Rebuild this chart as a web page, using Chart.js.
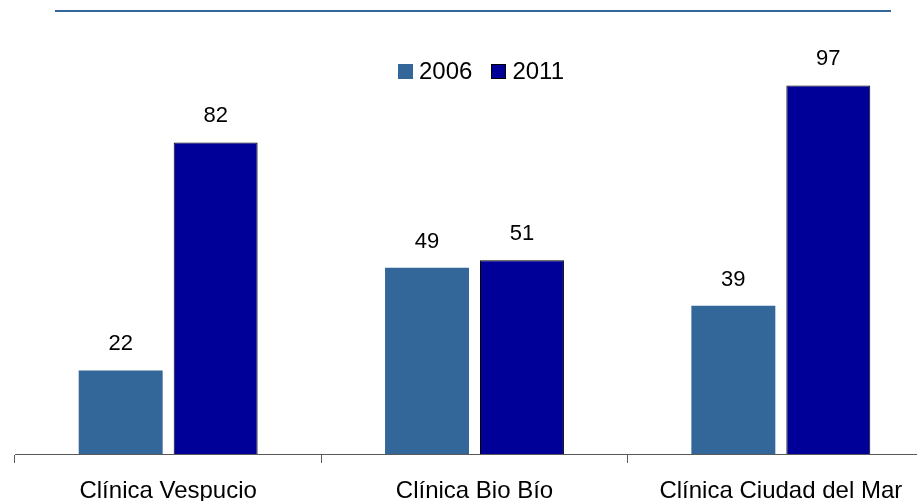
<!DOCTYPE html>
<html>
<head>
<meta charset="utf-8">
<script src="https://cdn.jsdelivr.net/npm/chart.js@4.4.0/dist/chart.umd.min.js"></script>
<style>
  body { margin: 0; width: 917px; height: 501px; overflow: hidden; background: #fff; font-family: "Liberation Sans", Arial, sans-serif; }
  #wrap { position: absolute; left: 0; top: 0; width: 940px; height: 501px; }
  #topline { position: absolute; left: 55px; top: 10px; width: 836px; height: 2px; background: #336699; }
  #legend { position: absolute; left: 398px; top: 57px; font-size: 24px; line-height: 28px; color: #000; display: flex; align-items: center; }
  #legend span.box { display: inline-block; width: 15px; height: 15px; margin-right: 6px; box-sizing: border-box; }
</style>
</head>
<body>
<div id="wrap"><canvas id="chart" width="940" height="501"></canvas></div>
<div id="topline"></div>
<div id="legend">
  <span class="box" style="background:#336699"></span><span style="margin-right:19px">2006</span>
  <span class="box" style="background:#000099;border:1px solid #000"></span><span>2011</span>
</div>
<script>
// categories and series
let clinicas = ["Clínica Vespucio", "Clínica Bio Bío", "Clínica Ciudad del Mar"]
let valores_2006 = [22, 49, 39]
let valores_2011 = [82, 51, 97]

// draw value above each bar
const valueLabels = {
  id: 'valueLabels',
  afterDatasetsDraw(chart) {
    const ctx = chart.ctx
    ctx.save()
    ctx.font = '22px "Liberation Sans", Arial, sans-serif'
    ctx.fillStyle = '#000'
    ctx.textAlign = 'center'
    ctx.textBaseline = 'alphabetic'
    chart.data.datasets.forEach((ds, i) => {
      chart.getDatasetMeta(i).data.forEach((bar, j) => {
        ctx.fillText(ds.data[j], bar.x, bar.y - 20)
      })
    })
    ctx.restore()
  }
}

new Chart(document.getElementById("chart"), {
  type: 'bar',
  data: {
    labels: clinicas,
    datasets: [{
        label: "2006",
        data: valores_2006,
        backgroundColor: "#336699",
        borderWidth: 0
      }, {
        label: "2011",
        data: valores_2011,
        backgroundColor: "#000099",
        borderColor: "#000000",
        borderWidth: 1
      }
    ]
  },
  options: {
    responsive: false,
    animation: false,
    categoryPercentage: 0.62,
    barPercentage: 0.884,
    layout: { padding: { left: 15, right: 6, top: 36, bottom: 0 } },
    plugins: { legend: { display: false }, tooltip: { enabled: false } },
    scales: {
      x: {
        offset: true,
        grid: { offset: true, drawOnChartArea: false, tickLength: 9, color: '#595959' },
        border: { color: '#595959', width: 1 },
        ticks: { color: '#000', padding: 14, font: { family: '"Liberation Sans", Arial, sans-serif', size: 24 } },
        afterFit(scale) { scale.height = 47 }
      },
      y: {
        display: false,
        min: 0,
        max: 110
      }
    }
  },
  plugins: [valueLabels]
});
</script>
</body>
</html>
